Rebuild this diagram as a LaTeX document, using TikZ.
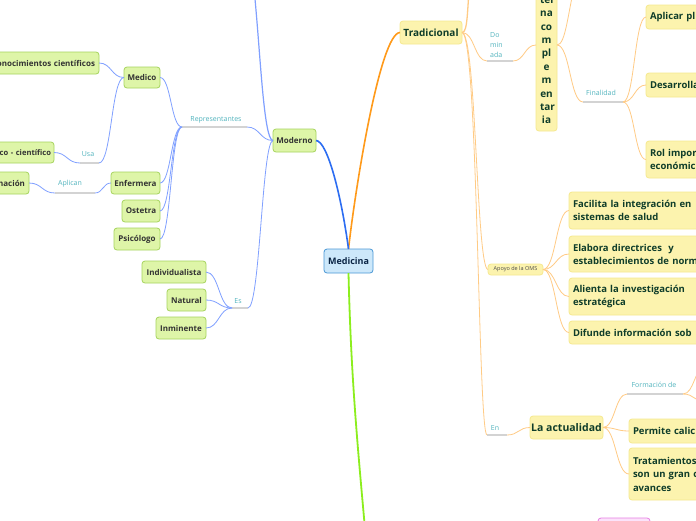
\documentclass[tikz,border=0pt]{standalone}
\usepackage{fontspec}
\setmainfont{Open Sans}
\usetikzlibrary{calc}
\definecolor{yfill}{HTML}{FCF3AE}
\definecolor{ydraw}{HTML}{F6E98F}
\definecolor{ytext}{HTML}{0F3D2A}
\definecolor{gfill}{HTML}{DEF5A8}
\definecolor{gdraw}{HTML}{A6D45E}
\definecolor{gtext}{HTML}{333333}
\definecolor{bfill}{HTML}{CDE8FA}
\definecolor{bdraw}{HTML}{4A98D6}
\definecolor{btext}{HTML}{0B2545}
\definecolor{labtext}{HTML}{52B4BE}
\definecolor{labline}{HTML}{D3D3D3}
\definecolor{orangeM}{HTML}{FF9A1A}
\definecolor{orangeL}{HTML}{FFCB85}
\definecolor{blueM}{HTML}{2C6DF2}
\definecolor{blueL}{HTML}{80A0FF}
\definecolor{greenM}{HTML}{8CEE1E}
\definecolor{pinkD}{HTML}{E77FE3}
\definecolor{pinkF}{HTML}{FBE3FA}
\newcommand\mmc[4][0.5]{\draw[#2] let \p1=#3, \p2=#4 in (\p1) .. controls ({\x1+#1*(\x2-\x1)},\y1) and ({\x1+#1*(\x2-\x1)},\y2) .. (\p2);}
\tikzset{
  box/.style={rounded corners=3pt, inner sep=0pt, outer sep=0pt, line width=0.8pt},
  ybox/.style={box, fill=yfill, draw=ydraw, text=ytext, font=\bfseries\fontsize{9.5}{13}\selectfont},
  gbox/.style={box, fill=gfill, draw=gdraw, text=gtext, font=\bfseries\fontsize{8}{10}\selectfont},
  ltext/.style={text=labtext, font=\fontsize{7}{9}\selectfont, inner sep=0pt},
  lline/.style={draw=labline, line width=1.5pt},
  ol/.style={draw=orangeL, line width=0.8pt},
  bll/.style={draw=blueL, line width=0.8pt}
}
\begin{document}
\begin{tikzpicture}[x=1pt,y=-1pt]
\useasboundingbox (0,0) rectangle (696,520);
\fill[white] (0,0) rectangle (696,520);
\clip (0,0) rectangle (696,520);

% central
\node[box, fill=bfill, draw=bdraw, text=btext, font=\bfseries\fontsize{9}{11}\selectfont, minimum width=49pt, minimum height=24pt] (med) at (348.5,261) {Medicina};

% Moderno side
\node[gbox, minimum width=43pt, minimum height=23pt] (mod) at (294.5,140.5) {Moderno};
\node[gbox, minimum width=36pt, minimum height=21pt] (medico) at (142,77.5) {Medico};
\node[gbox, anchor=east, text width=104pt, align=right, inner xsep=4pt, minimum height=22pt] (conoc) at (99,63) {onocimientos científicos};
\node[gbox, anchor=east, text width=70pt, align=right, inner xsep=3pt, minimum height=21pt, font=\bfseries\fontsize{7.6}{10}\selectfont] (cien) at (54,152.5) {co - científico};
\node[gbox, anchor=east, text width=40pt, align=right, inner xsep=4pt, minimum height=22pt] (nacion) at (29,183) {nación};
\node[gbox, minimum width=49pt, minimum height=22pt] (enf) at (135.5,183) {Enfermera};
\node[gbox, minimum width=38pt, minimum height=22pt] (ost) at (141,211) {Ostetra};
\node[gbox, minimum width=46pt, minimum height=22pt] (psi) at (137,239) {Psicólogo};
\node[gbox, minimum width=64pt, minimum height=22pt] (ind) at (174,272) {Individualista};
\node[gbox, minimum width=39pt, minimum height=22pt] (nat) at (186.5,300) {Natural};
\node[gbox, minimum width=50pt, minimum height=22pt] (inm) at (181,328) {Inminente};

% labels Moderno
\coordinate (repL) at (182,127); \coordinate (repR) at (247,127);
\draw[lline] (repL) -- (repR);
\node[ltext] (rep) at (216,120) {Representantes};
\coordinate (usaL) at (80,163); \coordinate (usaR) at (99,163);
\draw[lline] (usaL) -- (usaR);
\node[ltext] (usa) at (88,154) {Usa};
\coordinate (apL) at (55,193); \coordinate (apR) at (95,193);
\draw[lline] (apL) -- (apR);
\node[ltext] (apl) at (70,184) {Aplican};
\coordinate (esL) at (232,308); \coordinate (esR) at (248,308);
\draw[lline] (esL) -- (esR);
\node[ltext] (es) at (238,301) {Es};

% Tradicional side
\node[ybox, font=\bfseries\fontsize{10}{12}\selectfont, minimum width=62pt, minimum height=23pt] (trad) at (431,32.5) {Tradicional};
\node[ybox, anchor=south, text width=13pt, align=center, inner xsep=4pt, inner ysep=7pt, font=\bfseries\fontsize{10}{13.4}\selectfont] (alt) at (546.5,131) {ter\\na\\co\\m\\pl\\e\\m\\en\\tar\\ia};
\coordinate (altL) at (536,45); \coordinate (altR) at (557,45);
\node[ybox, anchor=west, text width=80pt, align=left, inner xsep=4pt, minimum height=24pt] (aplic) at (646,17) {Aplicar pl};
\node[ybox, anchor=west, text width=80pt, align=left, inner xsep=4pt, minimum height=24pt] (desa) at (646,85) {Desarrolla};
\node[ybox, anchor=west, text width=80pt, align=left, inner xsep=4pt, minimum height=37pt] (rol) at (646,159.5) {Rol impor\\económic};
\node[box, fill=yfill, draw=ydraw, text=black!70, font=\fontsize{5.5}{7}\selectfont, minimum width=55pt, minimum height=11pt] (oms) at (515.5,269.5) {Apoyo de la OMS};
\node[ybox, anchor=west, text width=140pt, align=left, inner xsep=4pt, minimum height=37pt] (fac) at (569,210.5) {Facilita la integración en\\sistemas de salud};
\node[ybox, anchor=west, text width=140pt, align=left, inner xsep=4pt, minimum height=36pt] (ela) at (569,254) {Elabora directrices \ y\\establecimientos de norm};
\node[ybox, anchor=west, text width=140pt, align=left, inner xsep=4pt, minimum height=37pt] (ali) at (569,296.5) {Alienta la investigación\\estratégica};
\node[ybox, anchor=west, text width=140pt, align=left, inner xsep=4pt, minimum height=23pt] (dif) at (569,332.5) {Difunde información sob};
\node[ybox, font=\bfseries\fontsize{10.5}{13}\selectfont, minimum width=73pt, minimum height=23pt] (act) at (566.5,427.5) {La actualidad};
\node[ybox, anchor=west, text width=80pt, align=left, inner xsep=4pt, minimum height=24pt] (perm) at (629,431) {Permite calic};
\node[ybox, anchor=west, text width=80pt, align=left, inner xsep=4pt, minimum height=52pt, font=\bfseries\fontsize{9.5}{13.5}\selectfont] (trat) at (629,474) {Tratamientos\\son un gran c\\avances};
\node[box, fill=pinkF, draw=pinkD, minimum width=52pt, minimum height=24pt, anchor=north] (pink) at (624,518) {};

% labels Tradicional
\coordinate (domL) at (487,61); \coordinate (domR) at (513,61);
\draw[lline] (domL) -- (domR);
\node[ltext, anchor=west, align=left, font=\fontsize{7}{9.7}\selectfont] (dom) at (490,45) {Do\\min\\ada};
\coordinate (finL) at (583,102); \coordinate (finR) at (623,102);
\draw[lline] (finL) -- (finR);
\node[ltext] (fin) at (601,93) {Finalidad};
\coordinate (enL) at (487,435); \coordinate (enR) at (507,435);
\draw[lline] (enL) -- (enR);
\node[ltext] (en) at (495,428) {En};
\coordinate (formL) at (627,394); \coordinate (formR) at (683,394);
\draw[lline] (formL) -- (formR);
\node[ltext] (form) at (654,385) {Formación de};

% main connectors
\draw[orangeM, line width=1.6pt] (med.north) .. controls (355,190) and (380,33) .. (trad.west);
\draw[blueM, line width=1.6pt] (med.north) .. controls (342,200) and (328,141) .. (mod.east);
\coordinate (gEnd) at (366,540);
\draw[greenM, line width=1.8pt] (med.south) .. controls (351,380) and (358,450) .. (gEnd);

% Moderno connectors
\coordinate (modTop) at (253,-20);
\draw[bll, line width=1.2pt] (mod.west) .. controls (263,140.5) and (260,40) .. (modTop);
\draw[bll] (mod.west) .. controls (262,141) and (260,308) .. (esR);
\mmc{bll}{(mod.west)}{(repR)}
\mmc{bll}{(repL)}{(medico.east)}
\mmc{bll}{(repL)}{(enf.east)}
\mmc{bll}{(repL)}{(ost.east)}
\mmc{bll}{(repL)}{(psi.east)}
\mmc{bll}{(medico.west)}{(conoc.east)}
\mmc{bll}{(medico.west)}{(usaR)}
\mmc{bll}{(usaL)}{(cien.east)}
\mmc{bll}{(enf.west)}{(apR)}
\mmc{bll}{(apL)}{(nacion.east)}
\mmc{bll}{(esL)}{(ind.east)}
\mmc{bll}{(esL)}{(nat.east)}
\mmc{bll}{(esL)}{(inm.east)}

% Tradicional connectors
\coordinate (tradTop) at (470,-20);
\draw[ol, line width=1.3pt] (trad.east) .. controls (468,32.5) and (467,10) .. (tradTop);
\mmc{ol}{(trad.east)}{(domL)}
\mmc[0.55]{ol}{(trad.east)}{(oms.west)}
\mmc[0.64]{ol}{(trad.east)}{(enL)}
\mmc{ol}{(domR)}{(altL)}
\coordinate (altTop) at (576,-20);
\draw[ol] (altR) .. controls (566,45) and (568,10) .. (altTop);
\mmc{ol}{(altR)}{(finL)}
\mmc{ol}{(finR)}{(aplic.west)}
\mmc{ol}{(finR)}{(desa.west)}
\mmc{ol}{(finR)}{(rol.west)}
\mmc{ol}{(oms.east)}{(fac.west)}
\mmc{ol}{(oms.east)}{(ela.west)}
\mmc{ol}{(oms.east)}{(ali.west)}
\mmc{ol}{(oms.east)}{(dif.west)}
\mmc{ol}{(enR)}{(act.west)}
\mmc{ol}{(act.east)}{(formL)}
\mmc{ol}{(act.east)}{(perm.west)}
\mmc{ol}{(act.east)}{(trat.west)}
\coordinate (formA) at (706,366); \coordinate (formB) at (706,402);
\mmc{ol}{(formR)}{(formA)}
\mmc{ol}{(formR)}{(formB)}
\end{tikzpicture}
\end{document}
